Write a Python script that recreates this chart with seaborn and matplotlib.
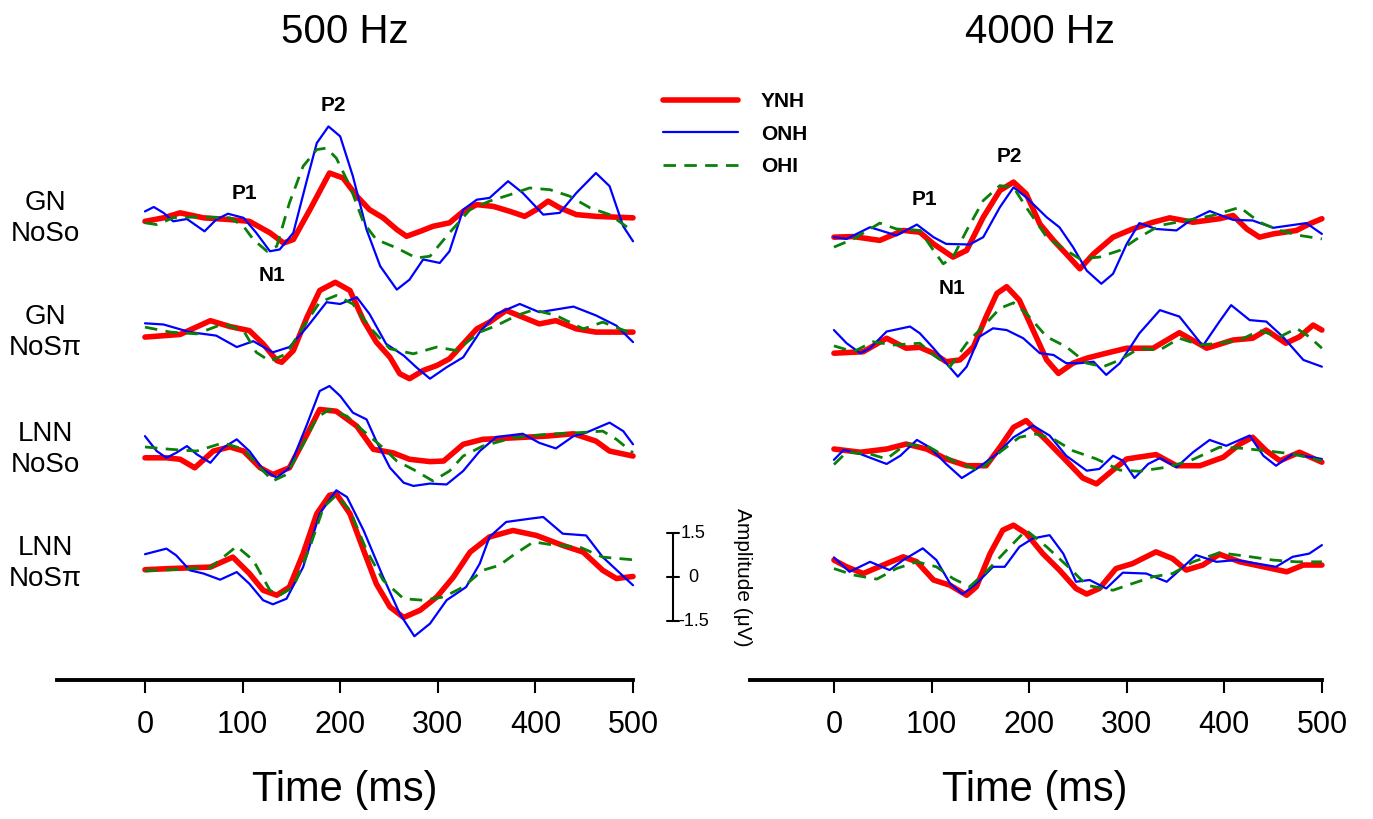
import matplotlib
matplotlib.use("Agg")
import matplotlib.pyplot as plt
from matplotlib.lines import Line2D
import pandas as pd
import seaborn as sns

# Time (ms) / amplitude (uV)

# ---- 500 Hz, GN NoSo ----
t500_gn_noso_ynh = [0, 19, 36, 60, 87, 107, 128, 142, 152, 169, 189, 203, 217, 230, 244, 258, 268, 282, 295, 312, 326, 340, 357, 374, 389, 401, 413, 425, 442, 462, 500]
v500_gn_noso_ynh = [-0.06, 0.06, 0.23, 0.06, 0, -0.06, -0.45, -0.80, -0.68, 0.34, 1.59, 1.42, 0.80, 0.34, 0.06, -0.34, -0.57, -0.40, -0.23, -0.11, 0.28, 0.51, 0.45, 0.28, 0.11, 0.34, 0.63, 0.40, 0.17, 0.11, 0.06]
t500_gn_noso_onh = [0, 9, 19, 29, 43, 61, 73, 85, 101, 114, 128, 138, 152, 166, 176, 188, 200, 213, 227, 241, 258, 271, 285, 302, 312, 326, 340, 353, 372, 387, 408, 425, 442, 462, 476, 490, 500]
v500_gn_noso_onh = [0.28, 0.43, 0.23, -0.06, 0.02, -0.40, 0, 0.20, 0.06, -0.45, -1.08, -1.02, -0.45, 1.36, 2.61, 3.18, 2.84, 1.48, -0.34, -1.59, -2.39, -2.05, -1.36, -1.48, -1.08, 0.34, 0.68, 0.74, 1.31, 0.91, 0.17, 0.23, 0.91, 1.59, 1.14, -0.23, -0.74]
t500_gn_noso_ohi = [0, 12, 29, 53, 87, 101, 111, 125, 135, 148, 162, 176, 186, 196, 210, 224, 237, 258, 278, 292, 312, 333, 353, 374, 394, 415, 435, 456, 476, 500]
v500_gn_noso_ohi = [-0.11, -0.17, 0.06, 0.09, 0.06, -0.23, -0.68, -1.08, -0.91, 0.57, 1.82, 2.39, 2.44, 2.10, 1.14, -0.11, -0.68, -0.97, -1.31, -1.25, -0.45, 0.34, 0.63, 0.85, 1.08, 1.02, 0.80, 0.40, 0.17, -0.40]

# ---- 500 Hz, GN NoSpi ----
t500_gn_nospi_ynh = [0, 36, 67, 87, 107, 121, 135, 140, 152, 166, 179, 195, 210, 224, 237, 251, 261, 271, 285, 299, 312, 326, 340, 353, 370, 387, 404, 421, 442, 462, 500]
v500_gn_nospi_ynh = [-0.11, -0.02, 0.45, 0.25, 0.11, -0.34, -0.91, -0.97, -0.57, 0.57, 1.48, 1.76, 1.48, 0.45, -0.28, -0.80, -1.36, -1.53, -1.25, -1.08, -0.85, -0.34, 0.17, 0.40, 0.80, 0.57, 0.34, 0.45, 0.17, 0.06, 0.06]
t500_gn_nospi_onh = [0, 19, 46, 73, 94, 111, 131, 148, 166, 186, 200, 217, 230, 247, 265, 278, 292, 309, 326, 343, 360, 384, 404, 439, 462, 483, 500]
v500_gn_nospi_onh = [0.36, 0.32, 0.06, -0.06, -0.45, -0.25, -0.63, -0.45, 0.23, 1.08, 1.02, 1.25, 0.68, -0.34, -0.74, -1.14, -1.53, -1.14, -0.80, 0.06, 0.68, 1.02, 0.74, 0.93, 0.63, 0.28, -0.28]
t500_gn_nospi_ohi = [0, 26, 53, 80, 101, 114, 128, 145, 162, 179, 196, 213, 230, 251, 275, 299, 319, 343, 360, 381, 398, 421, 449, 469, 500]
v500_gn_nospi_ohi = [0.23, 0.06, 0, 0.34, 0.11, -0.63, -0.93, -0.68, 0.23, 1.08, 1.31, 1.02, 0.23, -0.51, -0.68, -0.45, -0.57, 0.06, 0.28, 0.63, 0.82, 0.63, 0.17, 0.40, 0]

# ---- 500 Hz, LNN NoSo ----
t500_lnn_noso_ynh = [0, 22, 36, 51, 70, 87, 101, 118, 131, 148, 166, 179, 196, 217, 234, 254, 271, 292, 306, 326, 346, 377, 411, 439, 462, 476, 500]
v500_lnn_noso_ynh = [-0.23, -0.23, -0.28, -0.57, 0, 0.14, 0, -0.57, -0.80, -0.57, 0.57, 1.42, 1.36, 0.85, 0.06, -0.06, -0.28, -0.36, -0.34, 0.23, 0.40, 0.45, 0.51, 0.59, 0.34, 0, -0.17]
t500_lnn_noso_onh = [0, 12, 22, 32, 43, 53, 67, 80, 94, 107, 121, 135, 148, 166, 179, 189, 200, 213, 227, 237, 251, 265, 275, 292, 309, 326, 343, 360, 387, 404, 421, 439, 452, 476, 490, 500]
v500_lnn_noso_onh = [0.51, 0, -0.23, -0.06, 0.17, -0.11, -0.40, 0.11, 0.40, 0, -0.63, -0.91, -0.57, 0.91, 2.05, 2.22, 1.88, 1.31, 1.08, 0.34, -0.57, -1.08, -1.19, -1.11, -1.14, -0.68, 0, 0.48, 0.59, 0.28, 0.09, 0.51, 0.63, 0.97, 0.68, 0.23]
t500_lnn_noso_ohi = [0, 26, 53, 80, 101, 118, 131, 145, 162, 176, 189, 207, 224, 244, 258, 275, 295, 312, 326, 346, 377, 411, 445, 469, 483, 500]
v500_lnn_noso_ohi = [0.14, 0.06, 0, 0.28, 0.06, -0.57, -1.02, -0.80, 0.23, 1.14, 1.42, 1.19, 0.68, 0.11, -0.34, -0.63, -1.02, -0.68, -0.17, 0.17, 0.45, 0.57, 0.63, 0.68, 0.40, -0.06]

# ---- 500 Hz, LNN NoSpi ----
t500_lnn_nospi_ynh = [0, 26, 67, 90, 107, 121, 135, 148, 162, 176, 189, 196, 210, 224, 237, 251, 265, 282, 299, 316, 333, 353, 377, 401, 428, 449, 469, 483, 500]
v500_lnn_nospi_ynh = [-0.15, -0.11, -0.06, 0.28, -0.28, -0.85, -1.02, -0.74, 0.40, 1.76, 2.39, 2.44, 1.76, 0.51, -0.63, -1.42, -1.78, -1.53, -1.08, -0.40, 0.45, 0.97, 1.19, 1.02, 0.68, 0.45, -0.17, -0.45, -0.38]
t500_lnn_nospi_onh = [0, 22, 32, 46, 60, 77, 94, 107, 121, 131, 145, 162, 179, 196, 207, 224, 244, 261, 276, 292, 309, 329, 343, 353, 370, 394, 408, 428, 452, 469, 500]
v500_lnn_nospi_onh = [0.38, 0.57, 0.34, -0.17, -0.28, -0.49, -0.23, -0.63, -1.19, -1.33, -1.14, -0.06, 1.76, 2.56, 2.33, 1.19, -0.40, -1.65, -2.42, -1.99, -1.19, -0.74, 0.06, 0.97, 1.48, 1.59, 1.65, 1.08, 1.02, 0.28, -0.68]
t500_lnn_nospi_ohi = [0, 26, 67, 94, 111, 128, 138, 152, 169, 183, 196, 210, 227, 244, 265, 285, 306, 326, 346, 363, 377, 398, 421, 445, 469, 500]
v500_lnn_nospi_ohi = [-0.19, -0.15, -0.08, 0.65, 0.17, -0.85, -1.02, -0.74, 0.63, 1.99, 2.39, 1.88, 0.51, -0.51, -1.14, -1.19, -1.08, -0.74, -0.17, 0, 0.34, 0.80, 0.68, 0.63, 0.28, 0.19]

# ---- 4000 Hz, GN NoSo ----
t4k_gn_noso_ynh = [0, 20, 47, 71, 88, 102, 122, 136, 153, 170, 184, 197, 211, 225, 238, 252, 266, 286, 306, 327, 344, 368, 395, 409, 423, 436, 450, 474, 487, 500]
v4k_gn_noso_ynh = [0, 0.02, -0.11, 0.23, 0.17, -0.23, -0.68, -0.45, 0.68, 1.59, 1.88, 1.48, 0.45, -0.11, -0.57, -1.08, -0.57, 0, 0.28, 0.51, 0.66, 0.51, 0.63, 0.74, 0.28, 0, 0.11, 0.23, 0.45, 0.63]
t4k_gn_noso_onh = [0, 13, 37, 64, 85, 102, 115, 139, 153, 170, 184, 197, 218, 231, 245, 259, 274, 286, 300, 313, 330, 351, 365, 385, 409, 429, 450, 484, 500]
v4k_gn_noso_onh = [0, -0.06, 0.34, 0.06, 0.43, 0, -0.23, -0.25, 0, 1.02, 1.70, 1.36, 0.68, 0.34, -0.34, -1.14, -1.59, -1.25, -0.23, 0.48, 0.28, 0.23, 0.57, 0.89, 0.59, 0.57, 0.32, 0.48, 0.11]
t4k_gn_noso_ohi = [0, 20, 47, 64, 88, 102, 112, 122, 136, 153, 170, 184, 197, 218, 238, 252, 272, 293, 313, 334, 361, 388, 416, 436, 457, 477, 500]
v4k_gn_noso_ohi = [-0.34, -0.06, 0.48, 0.28, 0.23, -0.45, -0.91, -0.68, 0.23, 1.25, 1.76, 1.70, 1.02, 0, -0.45, -0.74, -0.68, -0.45, 0, 0.40, 0.57, 0.74, 1.02, 0.51, 0.23, 0.06, -0.06]

# ---- 4000 Hz, GN NoSpi ----
t4k_gn_nospi_ynh = [0, 30, 54, 74, 88, 102, 115, 129, 143, 156, 167, 177, 190, 204, 218, 230, 245, 259, 279, 300, 327, 354, 382, 409, 429, 443, 463, 477, 491, 500]
v4k_gn_nospi_ynh = [-0.11, -0.06, 0.40, 0.06, 0.09, -0.11, -0.40, -0.34, 0.11, 1.14, 1.93, 2.16, 1.70, 0.68, -0.34, -0.80, -0.45, -0.28, -0.11, 0.06, 0.06, 0.59, 0.06, 0.34, 0.40, 0.68, 0.23, 0.45, 0.85, 0.68]
t4k_gn_nospi_onh = [0, 13, 27, 37, 54, 78, 88, 102, 115, 127, 136, 149, 163, 177, 194, 211, 225, 238, 252, 266, 279, 293, 313, 334, 354, 378, 395, 407, 426, 443, 460, 481, 500]
v4k_gn_nospi_onh = [0.68, 0.23, -0.11, 0.06, 0.63, 0.80, 0.57, 0.06, -0.45, -0.91, -0.57, 0.45, 0.74, 0.68, 0.40, -0.11, -0.17, -0.45, -0.45, -0.40, -0.85, -0.45, 0.57, 1.36, 1.14, 0.14, 0.97, 1.53, 1.02, 0.97, 0.45, -0.34, -0.57]
t4k_gn_nospi_ohi = [0, 20, 40, 61, 88, 102, 119, 136, 156, 170, 184, 197, 218, 238, 259, 276, 293, 313, 334, 354, 375, 395, 416, 436, 457, 474, 487, 500]
v4k_gn_nospi_ohi = [0.14, -0.06, 0.28, 0.17, 0.23, -0.17, -0.57, 0.23, 0.91, 1.42, 1.61, 1.25, 0.45, 0.11, -0.45, -0.57, -0.34, 0.06, 0, 0.40, 0.17, 0.23, 0.34, 0.66, 0.45, 0.74, 0.45, 0.06]

# ---- 4000 Hz, LNN NoSo ----
t4k_lnn_noso_ynh = [0, 27, 54, 74, 95, 115, 136, 156, 170, 184, 197, 218, 238, 255, 269, 283, 300, 330, 351, 375, 399, 416, 429, 443, 457, 477, 500]
v4k_lnn_noso_ynh = [0.17, 0.06, 0.17, 0.34, 0.17, -0.17, -0.40, -0.40, 0.23, 0.91, 1.14, 0.45, -0.23, -0.82, -1.02, -0.63, -0.17, -0.02, -0.40, -0.40, -0.11, 0.34, 0.57, 0.11, -0.23, 0.06, -0.28]
t4k_lnn_noso_onh = [0, 10, 27, 54, 68, 85, 98, 115, 131, 146, 167, 184, 204, 221, 238, 259, 272, 286, 296, 308, 322, 334, 351, 368, 385, 402, 426, 440, 453, 470, 500]
v4k_lnn_noso_onh = [-0.20, 0.14, 0, -0.34, -0.06, 0.48, 0.23, -0.34, -0.82, -0.51, 0, 0.57, 0.97, 0.63, -0.06, -0.57, -0.51, -0.06, -0.23, -0.82, -0.34, -0.14, -0.45, 0.06, 0.48, 0.28, 0.63, -0.06, -0.40, 0, -0.17]
t4k_lnn_noso_ohi = [0, 13, 37, 54, 74, 98, 122, 149, 170, 190, 207, 225, 245, 269, 293, 313, 341, 365, 395, 416, 443, 470, 500]
v4k_lnn_noso_ohi = [-0.36, 0.06, 0, -0.17, 0.34, 0.23, -0.23, -0.57, 0.06, 0.57, 0.68, 0.51, 0.11, -0.17, -0.55, -0.59, -0.45, -0.23, 0.23, 0.20, 0.11, 0, -0.23]

# ---- 4000 Hz, LNN NoSpi ----
t4k_lnn_nospi_ynh = [0, 13, 30, 54, 71, 85, 102, 119, 136, 146, 160, 173, 184, 197, 214, 231, 248, 259, 272, 289, 306, 330, 347, 361, 378, 395, 416, 440, 464, 481, 500]
v4k_lnn_nospi_ynh = [0.23, 0, -0.23, 0.11, 0.34, 0.17, -0.45, -0.63, -0.97, -0.68, 0.45, 1.25, 1.42, 1.14, 0.45, -0.11, -0.74, -0.93, -0.74, -0.06, 0.11, 0.51, 0.28, -0.11, 0.06, 0.43, 0.17, 0, -0.17, 0.06, 0.06]
t4k_lnn_nospi_onh = [0, 16, 37, 57, 71, 91, 105, 119, 132, 146, 163, 175, 190, 204, 221, 235, 248, 262, 279, 296, 320, 341, 358, 371, 392, 412, 453, 470, 487, 500]
v4k_lnn_nospi_onh = [0.32, -0.17, 0.17, -0.11, 0.23, 0.63, 0.23, -0.57, -0.93, -0.57, 0, 0, 0.68, 0.97, 1.08, 0.45, -0.51, -0.45, -0.74, -0.20, -0.23, -0.51, 0, 0.40, 0.17, 0.23, 0, 0.34, 0.45, 0.74]
t4k_lnn_nospi_ohi = [0, 20, 44, 64, 85, 105, 122, 139, 156, 177, 197, 218, 242, 259, 286, 306, 327, 347, 368, 395, 423, 450, 474, 500]
v4k_lnn_nospi_ohi = [-0.06, -0.28, -0.42, -0.06, 0.17, 0, -0.40, -0.68, -0.17, 0.57, 1.25, 0.68, -0.06, -0.63, -0.80, -0.57, -0.34, -0.23, 0.17, 0.48, 0.36, 0.23, 0.17, 0.17]

groups = ["YNH", "ONH", "OHI"]
conditions = ["GN\nNoSo", "GN\nNoS\u03c0", "LNN\nNoSo", "LNN\nNoS\u03c0"]
panels = ["500 Hz", "4000 Hz"]
# vertical offset (uV) of each condition row in the stacked display
offsets = {"500 Hz": [12.2, 8.3, 4.3, 0.4], "4000 Hz": [11.6, 7.75, 4.2, 0.35]}

traces = {
    ("500 Hz", 0, "YNH"): (t500_gn_noso_ynh, v500_gn_noso_ynh),
    ("500 Hz", 0, "ONH"): (t500_gn_noso_onh, v500_gn_noso_onh),
    ("500 Hz", 0, "OHI"): (t500_gn_noso_ohi, v500_gn_noso_ohi),
    ("500 Hz", 1, "YNH"): (t500_gn_nospi_ynh, v500_gn_nospi_ynh),
    ("500 Hz", 1, "ONH"): (t500_gn_nospi_onh, v500_gn_nospi_onh),
    ("500 Hz", 1, "OHI"): (t500_gn_nospi_ohi, v500_gn_nospi_ohi),
    ("500 Hz", 2, "YNH"): (t500_lnn_noso_ynh, v500_lnn_noso_ynh),
    ("500 Hz", 2, "ONH"): (t500_lnn_noso_onh, v500_lnn_noso_onh),
    ("500 Hz", 2, "OHI"): (t500_lnn_noso_ohi, v500_lnn_noso_ohi),
    ("500 Hz", 3, "YNH"): (t500_lnn_nospi_ynh, v500_lnn_nospi_ynh),
    ("500 Hz", 3, "ONH"): (t500_lnn_nospi_onh, v500_lnn_nospi_onh),
    ("500 Hz", 3, "OHI"): (t500_lnn_nospi_ohi, v500_lnn_nospi_ohi),
    ("4000 Hz", 0, "YNH"): (t4k_gn_noso_ynh, v4k_gn_noso_ynh),
    ("4000 Hz", 0, "ONH"): (t4k_gn_noso_onh, v4k_gn_noso_onh),
    ("4000 Hz", 0, "OHI"): (t4k_gn_noso_ohi, v4k_gn_noso_ohi),
    ("4000 Hz", 1, "YNH"): (t4k_gn_nospi_ynh, v4k_gn_nospi_ynh),
    ("4000 Hz", 1, "ONH"): (t4k_gn_nospi_onh, v4k_gn_nospi_onh),
    ("4000 Hz", 1, "OHI"): (t4k_gn_nospi_ohi, v4k_gn_nospi_ohi),
    ("4000 Hz", 2, "YNH"): (t4k_lnn_noso_ynh, v4k_lnn_noso_ynh),
    ("4000 Hz", 2, "ONH"): (t4k_lnn_noso_onh, v4k_lnn_noso_onh),
    ("4000 Hz", 2, "OHI"): (t4k_lnn_noso_ohi, v4k_lnn_noso_ohi),
    ("4000 Hz", 3, "YNH"): (t4k_lnn_nospi_ynh, v4k_lnn_nospi_ynh),
    ("4000 Hz", 3, "ONH"): (t4k_lnn_nospi_onh, v4k_lnn_nospi_onh),
    ("4000 Hz", 3, "OHI"): (t4k_lnn_nospi_ohi, v4k_lnn_nospi_ohi),
}

rows = []
for (panel, r, grp), (t, v) in traces.items():
    assert len(t) == len(v), (panel, r, grp, len(t), len(v))
    for ti, vi in zip(t, v):
        rows.append({"panel": panel, "row": r, "group": grp, "time": ti,
                     "amp": vi, "y": vi + offsets[panel][r]})
df = pd.DataFrame(rows)

styles = {
    "YNH": dict(color="#ff0000", linewidth=4.0, linestyle="-"),
    "ONH": dict(color="#0000ff", linewidth=1.6, linestyle="-"),
    "OHI": dict(color="#0a800a", linewidth=2.0, linestyle=(0, (4.5, 3))),
}

sns.set_style("white", {"axes.edgecolor": "black", "text.color": "black",
                        "xtick.color": "black", "ytick.color": "black"})
plt.rcParams["font.family"] = ["Liberation Sans", "DejaVu Sans"]

fig = plt.figure(figsize=(13.73, 8.19), dpi=100)
ax_l = fig.add_axes([0.0345, 0.1702, 0.4692, 0.7334])
ax_r = fig.add_axes([0.5363, 0.1702, 0.4407, 0.7334])
axes = {"500 Hz": ax_l, "4000 Hz": ax_r}

for panel, ax in axes.items():
    for r in range(4):
        for grp in groups:
            sub = df[(df.panel == panel) & (df.row == r) & (df.group == grp)]
            sns.lineplot(data=sub, x="time", y="y", ax=ax, estimator=None,
                         sort=False, solid_joinstyle="round",
                         dash_joinstyle="round", **styles[grp])

    ax.set_ylim(-3.5, 17)
    ax.set_yticks([])
    ax.set_xticks([0, 100, 200, 300, 400, 500])
    ax.set_xlabel("")
    ax.set_ylabel("")
    for s in ["left", "top", "right"]:
        ax.spines[s].set_visible(False)
    ax.spines["bottom"].set_linewidth(2.8)
    ax.spines["bottom"].set_color("black")
    ax.tick_params(axis="x", direction="out", length=9, width=1.5, colors="black",
                   labelsize=22, pad=13, bottom=True)
    ax.patch.set_alpha(0)

ax_l.set_xlim(-100, 560)
ax_l.spines["bottom"].set_bounds(-90, 500)
ax_r.set_xlim(-100, 520)
ax_r.spines["bottom"].set_bounds(-86, 500)

# condition labels on the left
for r, lab in enumerate(conditions):
    ax_l.text(-102, offsets["500 Hz"][r] + 0.05, lab, ha="center", va="center",
              fontsize=20, linespacing=1.25, clip_on=False, color="black")

# component labels
peak_txt = dict(fontsize=15, fontweight="bold", ha="center", va="center", color="black")
ax_l.text(102, 13.1, "P1", **peak_txt)
ax_l.text(193, 16.1, "P2", **peak_txt)
ax_l.text(130, 10.3, "N1", **peak_txt)
ax_r.text(93, 12.9, "P1", **peak_txt)
ax_r.text(180, 14.35, "P2", **peak_txt)
ax_r.text(121, 9.86, "N1", **peak_txt)

# amplitude scale bar
ax_l.plot([541, 541], [-1.5, 1.5], color="black", lw=1.5, clip_on=False)
for val, lab in zip([1.5, 0, -1.5], ["1.5", "0", "-1.5"]):
    ax_l.plot([535, 547], [val, val], color="black", lw=1.5, clip_on=False)
    ax_l.text(562, val, lab, ha="center", va="center", fontsize=13, clip_on=False)
ax_l.text(612, 0, "Amplitude (\u03bcV)", rotation=-90, ha="center", va="center",
          fontsize=15, clip_on=False)

# titles and axis labels
fig.text(345 / 1373, 1 - 32 / 819, "500 Hz", ha="center", va="center", fontsize=29)
fig.text(1040 / 1373, 1 - 32 / 819, "4000 Hz", ha="center", va="center", fontsize=29)
fig.text(345 / 1373, 1 - 790 / 819, "Time (ms)", ha="center", va="center", fontsize=30)
fig.text(1035 / 1373, 1 - 790 / 819, "Time (ms)", ha="center", va="center", fontsize=30)

handles = [Line2D([], [], **styles[g]) for g in groups]
fig.legend(handles, groups, loc="upper left", bbox_to_anchor=(663 / 1373, 1 - 92 / 819),
           frameon=False, prop=dict(weight="bold", size=15), handlelength=3.6,
           handletextpad=1.1, labelspacing=0.65, borderpad=0, borderaxespad=0)

fig.savefig("out.png", dpi=100)
